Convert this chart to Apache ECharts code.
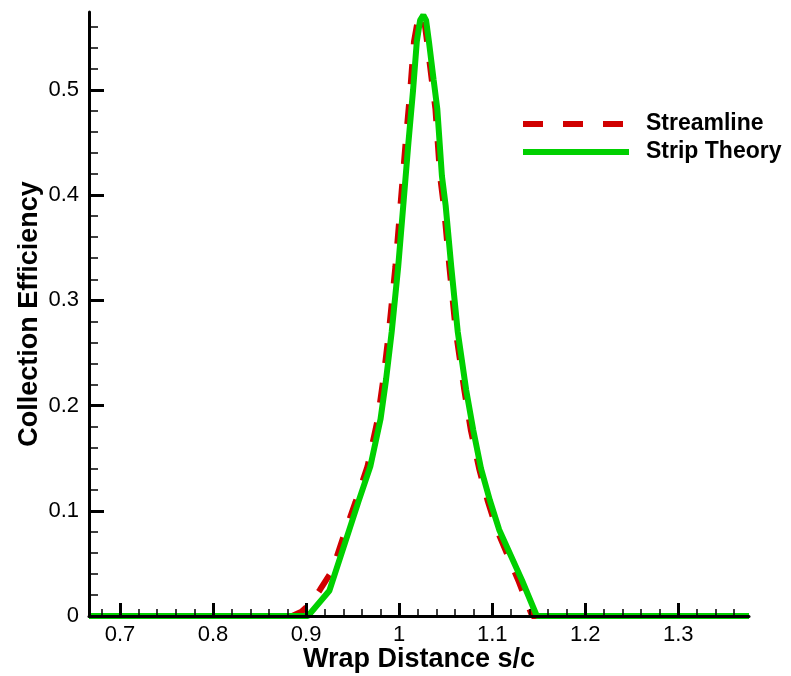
<!DOCTYPE html>
<html>
<head>
<meta charset="utf-8">
<script src="https://cdn.jsdelivr.net/npm/echarts@6/dist/echarts.min.js"></script>
<style>
  html, body { margin: 0; padding: 0; background: #fff; }
  #chart { width: 791px; height: 676px; }
</style>
</head>
<body>
<div id="chart"></div>
<script>
  // wrap distance s/c, collection efficiency
  const streamline = [
    [0.6667, 0], [0.885, 0], [0.895, 0.004], [0.905, 0.012], [0.915, 0.025], [0.928, 0.043],
    [0.94, 0.075], [0.953, 0.108], [0.966, 0.142], [0.977, 0.187], [0.983, 0.225], [0.989, 0.27],
    [0.996, 0.332], [1.002, 0.396], [1.007, 0.45], [1.012, 0.5], [1.016, 0.546], [1.02, 0.566],
    [1.024, 0.572], [1.027, 0.566], [1.03, 0.546], [1.035, 0.51], [1.039, 0.482], [1.044, 0.418],
    [1.048, 0.39], [1.054, 0.332], [1.061, 0.27], [1.07, 0.215], [1.077, 0.177], [1.086, 0.14],
    [1.095, 0.11], [1.105, 0.082], [1.128, 0.034], [1.143, 0], [1.376, 0]
  ]
  const stripTheory = [
    [0.6667, 0], [0.902, 0], [0.925, 0.024], [0.942, 0.07], [0.956, 0.108], [0.969, 0.142],
    [0.98, 0.187], [0.986, 0.225], [0.992, 0.27], [0.999, 0.332], [1.005, 0.396], [1.01, 0.45],
    [1.015, 0.5], [1.019, 0.546], [1.0225, 0.566], [1.026, 0.571], [1.029, 0.566], [1.032, 0.546],
    [1.037, 0.51], [1.041, 0.482], [1.046, 0.418], [1.05, 0.39], [1.056, 0.332], [1.063, 0.27],
    [1.072, 0.215], [1.0796, 0.177], [1.088, 0.14], [1.0975, 0.11], [1.1075, 0.082],
    [1.132, 0.034], [1.148, 0], [1.376, 0]
  ]
  const xTicks = [0.7, 0.8, 0.9, 1.0, 1.1, 1.2, 1.3]
  const xMinorTicks = [0.68, 0.72, 0.74, 0.76, 0.78, 0.82, 0.84, 0.86, 0.88, 0.92, 0.94, 0.96, 0.98,
    1.02, 1.04, 1.06, 1.08, 1.12, 1.14, 1.16, 1.18, 1.22, 1.24, 1.26, 1.28, 1.32, 1.34, 1.36]
  const yTicks = [0, 0.1, 0.2, 0.3, 0.4, 0.5]
  const yMinorTicks = [0.02, 0.04, 0.06, 0.08, 0.12, 0.14, 0.16, 0.18, 0.22, 0.24, 0.26, 0.28,
    0.32, 0.34, 0.36, 0.38, 0.42, 0.44, 0.46, 0.48, 0.52, 0.54, 0.56]

  const xMin = 0.6667, xMax = 1.376
  const yMin = 0, yMax = 0.574
  const font = 'Liberation Sans'

  let chart = echarts.init(document.getElementById('chart'), null, { renderer: 'canvas' })

  let option = {
    animation: false,
    backgroundColor: '#fff',
    grid: { left: 89, right: 42, top: 12, bottom: 60, outerBoundsMode: 'none', containLabel: false },
    legend: {
      left: 520,
      top: 110,
      padding: 0,
      orient: 'vertical',
      itemWidth: 106,
      itemHeight: 14,
      itemGap: 0,
      itemStyle: { opacity: 0 },
      lineStyle: { width: 6 },
      textStyle: {
        fontFamily: font, fontWeight: 'bold', fontSize: 23, color: '#000',
        lineHeight: 28, padding: [0, 0, 0, 12]
      },
      data: ['Streamline', 'Strip Theory']
    },
    xAxis: [{
      type: 'value', min: xMin, max: xMax, position: 'bottom', z: 5,
      name: 'Wrap Distance s/c', nameLocation: 'middle', nameGap: 30, nameMoveOverlap: false,
      nameTextStyle: { fontFamily: font, fontWeight: 'bold', fontSize: 27, color: '#000' },
      axisLine: { show: true, onZero: false, lineStyle: { color: '#000', width: 3 } },
      axisTick: { show: true, inside: true, length: 13, customValues: xTicks, lineStyle: { color: '#000', width: 3 } },
      axisLabel: { customValues: xTicks, margin: 8, fontFamily: font, fontSize: 22, color: '#000' },
      splitLine: { show: false }
    }, {
      type: 'value', min: xMin, max: xMax, position: 'bottom', z: 5,
      axisLine: { show: false },
      axisTick: { show: true, inside: true, length: 7, customValues: xMinorTicks, lineStyle: { color: '#000', width: 1.5 } },
      axisLabel: { show: false },
      splitLine: { show: false }
    }],
    yAxis: [{
      type: 'value', min: yMin, max: yMax, position: 'left', z: 5,
      name: 'Collection Efficiency', nameLocation: 'middle', nameGap: 46, nameRotate: 90, nameMoveOverlap: false,
      nameTextStyle: { fontFamily: font, fontWeight: 'bold', fontSize: 27, color: '#000' },
      axisLine: { show: true, onZero: false, lineStyle: { color: '#000', width: 3 } },
      axisTick: { show: true, inside: true, length: 15, customValues: yTicks, lineStyle: { color: '#000', width: 3 } },
      axisLabel: { customValues: yTicks, margin: 10, fontFamily: font, fontSize: 22, color: '#000' },
      splitLine: { show: false }
    }, {
      type: 'value', min: yMin, max: yMax, position: 'left', z: 5,
      axisLine: { show: false },
      axisTick: { show: true, inside: true, length: 9, customValues: yMinorTicks, lineStyle: { color: '#000', width: 1.5 } },
      axisLabel: { show: false },
      splitLine: { show: false }
    }],
    series: [{
      name: 'Streamline',
      type: 'line',
      data: streamline,
      symbol: 'none',
      z: 2,
      color: '#d00000',
      lineStyle: { color: '#d00000', width: 6, type: [20, 20] }
    }, {
      name: 'Strip Theory',
      type: 'line',
      data: stripTheory,
      symbol: 'none',
      z: 3,
      color: '#00d000',
      lineStyle: { color: '#00d000', width: 6 }
    }]
  }

  chart.setOption(option)
</script>
</body>
</html>
